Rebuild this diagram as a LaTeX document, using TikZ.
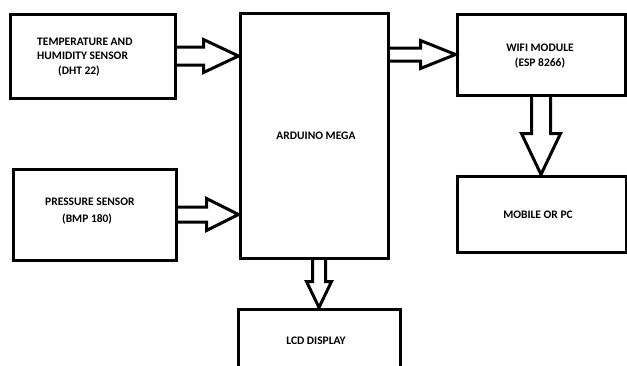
\documentclass[tikz,border=0pt]{standalone}
\usepackage{fontspec}
\setmainfont{Carlito}
\usetikzlibrary{calc}
\begin{document}
\begin{tikzpicture}[x=1pt,y=-1pt,
  box/.style={draw, line width=3pt, inner sep=0pt, minimum width=#1},
  txt/.style={font=\fontsize{11.5}{14.5}\selectfont\bfseries, inner sep=0pt},
  barrow/.style={draw, line width=3pt, line join=miter}]
\useasboundingbox (0,0) rectangle (627,365);
\clip (0,0) rectangle (627,365);
\node[box=165pt, minimum height=84pt] (temp) at (92.5,56) {};
\node[box=163pt, minimum height=91pt] (press) at (94.5,214.5) {};
\node[box=148pt, minimum height=245pt] (ard) at (314,135.5) {};
\node[box=168pt, minimum height=81pt] (wifi) at (541,54.5) {};
\node[box=169pt, minimum height=76pt] (mob) at (541.5,214) {};
\node[box=162pt, minimum height=80pt] (lcd) at (319,349) {};
% texts
\node[txt, align=left, anchor=west] at (37,57) {TEMPERATURE AND\\HUMIDITY SENSOR\\\hspace*{21pt}(DHT 22)};
\node[txt, align=left, anchor=west] at (45,211) {PRESSURE SENSOR\\[2pt]\hspace*{17pt}(BMP 180)};
\node[txt] at (316,136) {ARDUINO MEGA};
\node[txt, align=center] at (540,56) {WIFI MODULE\\(ESP 8266)};
\node[txt] at (538,215) {MOBILE OR PC};
\node[txt] at (316,341) {LCD DISPLAY};
% block arrows
% temp -> arduino
\coordinate (t1) at (ard.west |- temp.east);
\draw[barrow] ($(temp.east)+(0,-9)$) -- ($(t1)+(-35,-9)$) -- ($(t1)+(-35,-16.5)$) -- (t1)
  -- ($(t1)+(-35,16.5)$) -- ($(t1)+(-35,9)$) -- ($(temp.east)+(0,9)$);
% pressure -> arduino
\coordinate (t2) at (ard.west |- press.east);
\draw[barrow] ($(press.east)+(0,-7.5)$) -- ($(t2)+(-32,-7.5)$) -- ($(t2)+(-32,-16)$) -- (t2)
  -- ($(t2)+(-32,16)$) -- ($(t2)+(-32,7.5)$) -- ($(press.east)+(0,7.5)$);
% arduino -> wifi
\coordinate (s3) at (ard.east |- wifi.west);
\draw[barrow] ($(s3)+(0,-6.5)$) -- ($(wifi.west)+(-35,-6.5)$) -- ($(wifi.west)+(-35,-14)$) -- (wifi.west)
  -- ($(wifi.west)+(-35,14)$) -- ($(wifi.west)+(-35,6.5)$) -- ($(s3)+(0,6.5)$);
% arduino -> lcd
\coordinate (s4) at (lcd.north |- ard.south);
\draw[barrow] ($(s4)+(-6.5,0)$) -- ($(lcd.north)+(-6.5,-26)$) -- ($(lcd.north)+(-12.5,-26)$) -- (lcd.north)
  -- ($(lcd.north)+(12.5,-26)$) -- ($(lcd.north)+(6.5,-26)$) -- ($(s4)+(6.5,0)$);
% wifi -> mobile
\coordinate (t5) at (wifi.south |- mob.north);
\draw[barrow] ($(wifi.south)+(-9.5,0)$) -- ($(t5)+(-9.5,-41)$) -- ($(t5)+(-19.5,-41)$) -- (t5)
  -- ($(t5)+(19.5,-41)$) -- ($(t5)+(9.5,-41)$) -- ($(wifi.south)+(9.5,0)$);
\end{tikzpicture}
\end{document}
